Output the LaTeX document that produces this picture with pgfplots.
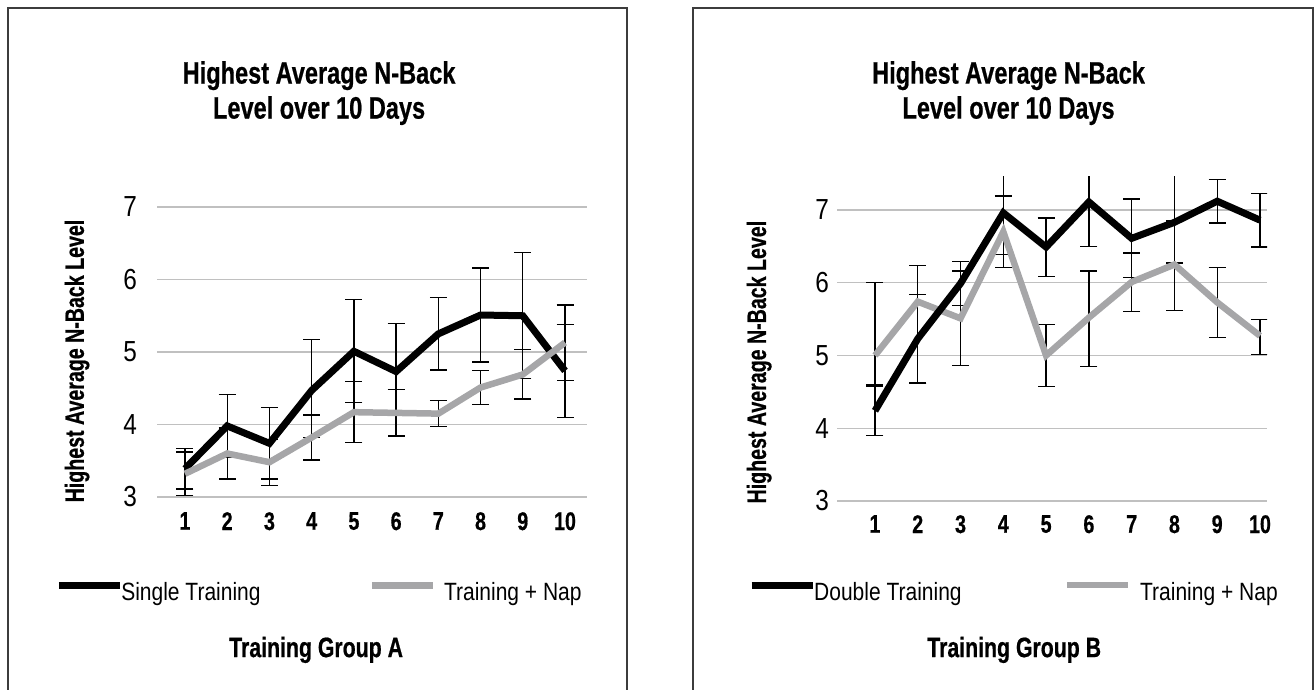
\documentclass[border=0pt]{standalone}
\usepackage{fontspec}
\setmainfont{Liberation Sans}
\newfontfamily\bfc{Liberation Sans}[FakeStretch=0.76, BoldFeatures={FakeBold=0.6}]
\newfontfamily\bfy{Liberation Sans}[FakeStretch=0.74, BoldFeatures={FakeBold=0.6}]
\newfontfamily\bft{Liberation Sans}[FakeStretch=0.77, BoldFeatures={FakeBold=0.6}]
\newfontfamily\rgc{Liberation Sans}[FakeStretch=0.84]
\usepackage{pgfplots}
\usepackage{pgfplotstable}
\pgfplotsset{compat=1.18}
\definecolor{sgray}{RGB}{166,166,168}
\definecolor{gridc}{RGB}{192,192,192}
\definecolor{framec}{RGB}{60,60,60}

% Training Group A
\pgfplotstableread{
x y ep em
1 3.39 0.28 0.28
2 3.98 0.43 0.43
3 3.74 0.49 0.49
4 4.47 0.70 0.65
5 5.01 0.71 0.71
6 4.73 0.66 0.60
7 5.25 0.50 0.50
8 5.51 0.65 0.65
9 5.50 0.87 0.87
10 4.74 0.64 0.64
}\Ablack
\pgfplotstableread{
x y ep em
1 3.32 0.30 0.30
2 3.60 0.35 0.35
3 3.48 0.31 0.32
4 3.82 0.31 0.31
5 4.17 0.42 0.42
6 4.16 0.32 0.32
7 4.15 0.18 0.18
8 4.51 0.23 0.23
9 4.69 0.34 0.34
10 5.13 0.52 0.52
}\Agray
% Training Group B
\pgfplotstableread{
x y ep em
1 4.24 0.34 0.34
2 5.23 0.61 0.61
3 5.99 0.30 0.30
4 6.96 0.57 0.57
5 6.49 0.40 0.40
6 7.11 0.61 0.61
7 6.61 0.54 0.54
8 6.83 0.80 0.56
9 7.12 0.30 0.30
10 6.86 0.37 0.37
}\Bblack
\pgfplotstableread{
x y ep em
1 5.00 1.00 0.40
2 5.74 0.50 1.12
3 5.51 0.65 0.65
4 6.70 0.49 0.49
5 5.00 0.43 0.43
6 5.52 0.64 0.67
7 6.01 0.40 0.41
8 6.25 0.60 0.63
9 5.73 0.48 0.48
10 5.27 0.22 0.26
}\Bgray

\pgfplotsset{
  panel/.style={
    scale only axis, width=430pt,
    xtick={1,...,10}, ytick={3,...,7}, ymin=3,
    ymajorgrids, major grid style={draw=gridc, line width=1.2pt},
    axis line style={draw=none}, major tick length=0pt, tick style={draw=none},
    /pgf/number format/assume math mode=true,
    xticklabel style={font=\bft\bfseries\fontsize{25.5}{26}\selectfont, anchor=north, inner sep=0pt},
    yticklabel style={font=\rgc\fontsize{29}{29}\selectfont, anchor=east, inner sep=0pt},
    title style={anchor=north, align=center, inner sep=0pt, font=\bfc\bfseries\fontsize{31}{35}\selectfont},
    xlabel style={anchor=base, inner sep=0pt, font=\bfc\bfseries\fontsize{28}{30}\selectfont},
    ylabel style={anchor=center, inner sep=0pt, font=\bfy\bfseries\fontsize{26.5}{28}\selectfont},
    legend columns=2, legend cell align=left,
    legend image code/.code={\draw[#1] (0pt,7.3pt) -- (61pt,7.3pt);},
  },
  errb/.style={draw=none, forget plot, error bars/.cd, y dir=both, y explicit,
    error bar style={draw=black, line width=1.3pt},
    error mark options={rotate=90, draw=black, line width=1.3pt, mark size=8.5pt}},
  blk/.style={black, line width=7pt, line join=miter},
  gry/.style={sgray, line width=6.5pt, line join=miter},
}

\begin{document}
\begin{tikzpicture}
\useasboundingbox (0pt,0pt) rectangle (1314pt,690pt);
\draw[framec, line width=1.2pt] (8pt,-2pt) -- (8pt,682pt) -- (627pt,682pt) -- (627pt,-2pt);
\draw[framec, line width=1.2pt] (693pt,-2pt) -- (693pt,682pt) -- (1313pt,682pt) -- (1313pt,-2pt);

\begin{axis}[panel, at={(157pt,193pt)}, anchor=south west,
  height=290pt, ymax=7, xmin=0.337, xmax=10.521,
  xticklabel style={yshift=-15pt}, yticklabel style={xshift=-20pt},
  title={Highest Average N-Back\\Level over 10 Days}, title style={at={(0.377,1.483)}},
  xlabel={Training Group A}, xlabel style={at={(0.37,-0.552)}},
  ylabel={Highest Average N-Back Level}, ylabel style={at={(-0.186,0.469)}},
  legend style={draw=none, fill=none, inner sep=0pt, at={(-0.237,-0.328)}, anchor=west,
    font=\rgc\fontsize{25}{25}\selectfont, nodes={inner sep=0pt},
    /tikz/column 1/.style={column sep=-2pt},
    /tikz/column 2/.style={column sep=108pt},
    /tikz/column 3/.style={column sep=8pt}},
]
\addlegendimage{blk}\addlegendentry{Single Training}
\addlegendimage{gry}\addlegendentry{Training + Nap}
\addplot[errb] table[x=x, y=y, y error plus=ep, y error minus=em]{\Ablack};
\addplot[errb] table[x=x, y=y, y error plus=ep, y error minus=em]{\Agray};
\addplot[blk, forget plot] table[x=x, y=y]{\Ablack};
\addplot[gry, forget plot] table[x=x, y=y]{\Agray};
\end{axis}

\begin{axis}[panel, at={(837pt,189pt)}, anchor=south west,
  height=324.5pt, ymax=7.46, xmin=0.112, xmax=10.164,
  xticklabel style={yshift=-14pt}, yticklabel style={xshift=-8pt},
  title={Highest Average N-Back\\Level over 10 Days}, title style={at={(0.399,1.3376)}},
  xlabel={Training Group B}, xlabel style={at={(0.412,-0.481)}},
  ylabel={Highest Average N-Back Level}, ylabel style={at={(-0.181,0.428)}},
  legend style={draw=none, fill=none, inner sep=0pt, at={(-0.207,-0.2804)}, anchor=west,
    font=\rgc\fontsize{25}{25}\selectfont, nodes={inner sep=0pt},
    /tikz/column 1/.style={column sep=-2pt},
    /tikz/column 2/.style={column sep=102pt},
    /tikz/column 3/.style={column sep=9pt}},
]
\addlegendimage{blk}\addlegendentry{Double Training}
\addlegendimage{gry}\addlegendentry{Training + Nap}
\addplot[errb] table[x=x, y=y, y error plus=ep, y error minus=em]{\Bblack};
\addplot[errb] table[x=x, y=y, y error plus=ep, y error minus=em]{\Bgray};
\addplot[gry, forget plot] table[x=x, y=y]{\Bgray};
\addplot[blk, forget plot] table[x=x, y=y]{\Bblack};
\end{axis}
\end{tikzpicture}
\end{document}
